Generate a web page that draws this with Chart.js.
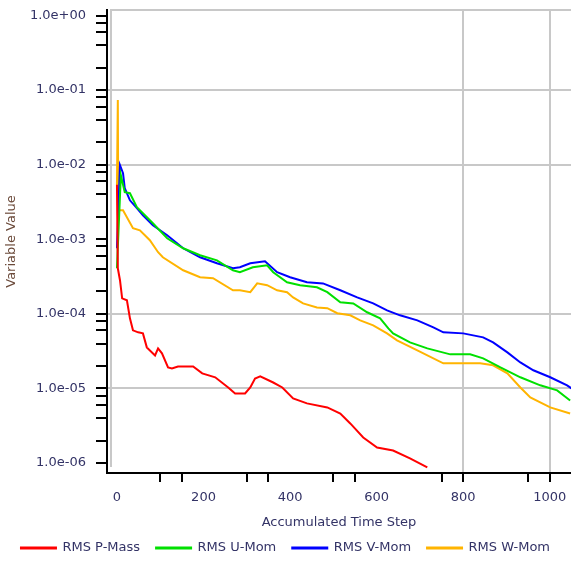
<!DOCTYPE html>
<html>
<head>
<meta charset="utf-8">
<script src="https://cdn.jsdelivr.net/npm/chart.js@4/dist/chart.umd.min.js"></script>
<style>
  html, body { margin: 0; padding: 0; background: #fff; }
  #wrap { width: 571px; height: 562px; }
</style>
</head>
<body>
<div id="wrap"><canvas id="residuals"></canvas></div>
<script>
// residual histories (x = accumulated time step)
const pMassSteps = [0, 2, 7, 12, 23, 30, 37, 49, 60, 69, 88, 95, 104, 118, 127, 141, 176, 197, 227, 257, 273, 296, 308, 319, 331, 361, 382, 407, 439, 486, 516, 539, 569, 601, 638, 677, 717];
const pMassValues = [5.37e-3, 4.08e-4, 2.82e-4, 1.61e-4, 1.52e-4, 8.71e-5, 6.01e-5, 5.65e-5, 5.47e-5, 3.55e-5, 2.77e-5, 3.44e-5, 2.95e-5, 1.91e-5, 1.85e-5, 1.97e-5, 1.97e-5, 1.59e-5, 1.41e-5, 1.03e-5, 8.57e-6, 8.57e-6, 1.03e-5, 1.36e-5, 1.45e-5, 1.20e-5, 1.03e-5, 7.35e-6, 6.30e-6, 5.56e-6, 4.61e-6, 3.39e-6, 2.20e-6, 1.61e-6, 1.47e-6, 1.15e-6, 8.71e-7];

const uMomSteps = [0, 9, 18, 30, 46, 83, 116, 153, 192, 231, 268, 284, 314, 347, 361, 393, 423, 462, 486, 516, 546, 578, 608, 627, 638, 677, 717, 770, 816, 846, 886, 932, 978, 1017, 1047];
const uMomValues = [4.08e-4, 7.23e-3, 4.28e-3, 4.14e-3, 2.69e-3, 1.64e-3, 1.03e-3, 7.57e-4, 6.10e-4, 5.22e-4, 3.84e-4, 3.61e-4, 4.21e-4, 4.48e-4, 3.61e-4, 2.65e-4, 2.42e-4, 2.27e-4, 1.95e-4, 1.43e-4, 1.38e-4, 1.05e-4, 8.71e-5, 6.38e-5, 5.47e-5, 4.14e-5, 3.44e-5, 2.86e-5, 2.86e-5, 2.53e-5, 1.91e-5, 1.41e-5, 1.10e-5, 9.40e-6, 6.90e-6];

const vMomSteps = [0, 7, 14, 18, 30, 46, 60, 83, 116, 153, 192, 231, 268, 284, 308, 342, 370, 400, 439, 476, 516, 555, 592, 624, 654, 694, 731, 754, 800, 846, 869, 902, 932, 962, 1001, 1040, 1050];
const vMomValues = [7.57e-4, 9.84e-3, 7.69e-3, 4.84e-3, 3.33e-3, 2.61e-3, 2.10e-3, 1.54e-3, 1.13e-3, 7.57e-4, 5.73e-4, 4.76e-4, 4.08e-4, 4.21e-4, 4.76e-4, 5.07e-4, 3.61e-4, 3.09e-4, 2.65e-4, 2.56e-4, 2.07e-4, 1.66e-4, 1.38e-4, 1.11e-4, 9.55e-5, 8.18e-5, 6.59e-5, 5.65e-5, 5.47e-5, 4.84e-5, 4.14e-5, 3.04e-5, 2.23e-5, 1.75e-5, 1.41e-5, 1.10e-5, 1.00e-5];

const wMomSteps = [0, 2, 3, 14, 37, 53, 76, 95, 106, 153, 192, 222, 268, 284, 308, 324, 347, 370, 393, 407, 430, 462, 486, 509, 539, 562, 592, 624, 647, 694, 754, 839, 869, 902, 932, 955, 1001, 1047];
const wMomValues = [5.31e-3, 7.35e-2, 2.45e-3, 2.45e-3, 1.41e-3, 1.32e-3, 9.70e-4, 6.70e-4, 5.73e-4, 3.84e-4, 3.09e-4, 3.00e-4, 2.07e-4, 2.07e-4, 1.95e-4, 2.56e-4, 2.42e-4, 2.07e-4, 1.95e-4, 1.66e-4, 1.38e-4, 1.22e-4, 1.19e-4, 1.02e-4, 9.55e-5, 8.18e-5, 7.01e-5, 5.47e-5, 4.41e-5, 3.24e-5, 2.17e-5, 2.17e-5, 2.04e-5, 1.59e-5, 1.03e-5, 7.57e-6, 5.56e-6, 4.61e-6];

const seriesNames = ['RMS P-Mass', 'RMS U-Mom', 'RMS V-Mom', 'RMS W-Mom'];
const seriesColors = ['#ff0000', '#00e000', '#0000ff', '#ffb400'];

// axis ticks
const yMajorTicks = [1, 1e-1, 1e-2, 1e-3, 1e-4, 1e-5, 1e-6];
const yMinorMantissas = [2, 4, 6, 8];
const yGridTicks = [1e-1, 1e-2, 1e-4, 1e-5];
const xTicks = [0, 100, 150, 200, 300, 350, 400, 500, 550, 600, 750, 800, 950, 1000];
const xLabelTicks = [0, 200, 400, 600, 800, 1000];
const xGridTicks = [800, 1000];

const textColor = '#333366';
const gridColor = '#c8c8c8';

function toPoints(steps, values) {
  return steps.map((s, i) => ({ x: s, y: values[i] }));
}

function sameValue(a, b) {
  return Math.abs(a - b) <= Math.abs(b) * 1e-6;
}

function expLabel(v) {
  const e = Math.round(Math.log10(v));
  return '1.0e' + (e < 0 ? '-' : '+') + String(Math.abs(e)).padStart(2, '0');
}

const yTickValues = [];
yMajorTicks.forEach(m => {
  yTickValues.push(m);
  if (m > 1e-6) yMinorMantissas.forEach(k => yTickValues.push(k * m / 10));
});

const allSteps = [pMassSteps, uMomSteps, vMomSteps, wMomSteps];
const allValues = [pMassValues, uMomValues, vMomValues, wMomValues];

// grey frame on top and just inside the left axis
const plotFrame = {
  id: 'plotFrame',
  beforeDatasetsDraw(chart) {
    const { ctx, chartArea: a } = chart;
    ctx.save();
    ctx.strokeStyle = gridColor;
    ctx.lineWidth = 2;
    ctx.beginPath();
    ctx.moveTo(a.left + 4, a.bottom - 6);
    ctx.lineTo(a.left + 4, a.top);
    ctx.lineTo(a.right, a.top);
    ctx.stroke();
    ctx.restore();
  }
};

Chart.defaults.font.family = '"DejaVu Sans", sans-serif';
Chart.defaults.font.size = 13;
Chart.defaults.color = textColor;

new Chart(document.getElementById('residuals').getContext('2d'), {
  type: 'line',
  data: {
    datasets: seriesNames.map((name, i) => ({
      label: name,
      data: toPoints(allSteps[i], allValues[i]),
      borderColor: seriesColors[i],
      backgroundColor: seriesColors[i],
      borderWidth: 2,
      pointRadius: 0,
      tension: 0
    }))
  },
  options: {
    responsive: true,
    maintainAspectRatio: false,
    animation: false,
    layout: { padding: { left: 0, right: 0, top: 10, bottom: -2.5 } },
    plugins: {
      tooltip: { enabled: false },
      legend: {
        position: 'bottom',
        labels: {
          boxWidth: 35,
          boxHeight: 1,
          padding: 16,
          color: textColor
        }
      }
    },
    scales: {
      x: {
        type: 'linear',
        min: -23,
        max: 1049,
        afterBuildTicks: scale => { scale.ticks = xTicks.map(v => ({ value: v })); },
        afterFit: scale => { scale.paddingLeft = 0; scale.paddingRight = 0; },
        ticks: {
          autoSkip: false,
          maxRotation: 0,
          padding: 8,
          color: textColor,
          callback: v => xLabelTicks.includes(v) ? String(v) : ''
        },
        grid: {
          color: c => c.tick && xGridTicks.includes(c.tick.value) ? gridColor : 'rgba(0,0,0,0)',
          lineWidth: 2,
          tickLength: 9,
          tickWidth: 2,
          tickColor: c => c.tick && xLabelTicks.includes(c.tick.value) && c.tick.value < 800 ? 'rgba(0,0,0,0)' : '#000'
        },
        border: { display: true, color: '#000', width: 2 },
        title: {
          display: true,
          text: 'Accumulated Time Step',
          color: textColor,
          padding: { top: 1.6, bottom: -5.3 }
        }
      },
      y: {
        type: 'logarithmic',
        min: 7.34e-7,
        max: 1.186,
        afterBuildTicks: scale => { scale.ticks = yTickValues.map(v => ({ value: v })); },
        afterFit: scale => { scale.width = 107; scale.paddingTop = 0; scale.paddingBottom = 0; },
        ticks: {
          autoSkip: false,
          padding: 10,
          color: textColor,
          callback: v => yMajorTicks.some(m => sameValue(v, m)) ? expLabel(v) : ''
        },
        grid: {
          color: c => c.tick && yGridTicks.some(g => sameValue(c.tick.value, g)) ? gridColor : 'rgba(0,0,0,0)',
          lineWidth: 2,
          tickLength: 11,
          tickWidth: 2,
          tickColor: '#000'
        },
        border: { display: true, color: '#000', width: 2 },
        title: {
          display: true,
          text: 'Variable Value',
          color: '#6b4a3a',
          padding: { top: 4, bottom: 0 }
        }
      }
    }
  },
  plugins: [plotFrame]
});
</script>
</body>
</html>
